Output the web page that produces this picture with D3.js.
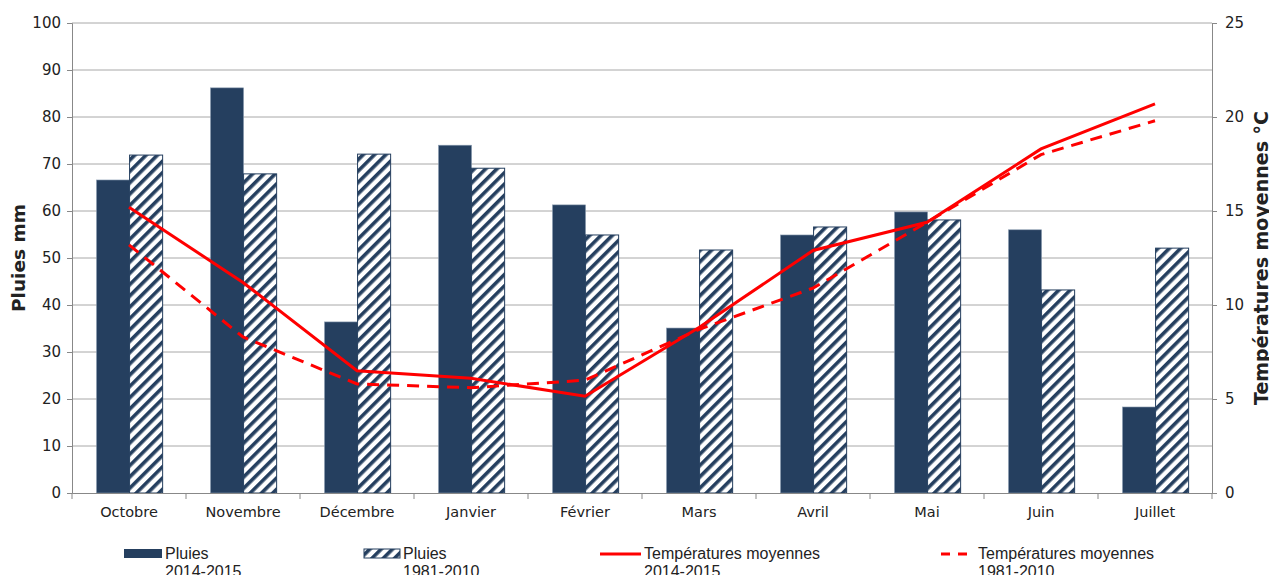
<!DOCTYPE html>
<html>
<head>
<meta charset="utf-8">
<script src="https://cdn.jsdelivr.net/npm/d3@7"></script>
<style>
  body { margin: 0; background: #fff; }
  text { font-family: "DejaVu Sans", Verdana, sans-serif; fill: #222; }
  .legend text { font-family: "Liberation Sans Narrow", "Liberation Sans", Arial, sans-serif; font-size: 16px; }
</style>
</head>
<body>
<script>
// Data
const months = ["Octobre", "Novembre", "Décembre", "Janvier", "Février", "Mars", "Avril", "Mai", "Juin", "Juillet"];
const rain2014 = [66.6, 86.2, 36.4, 74.0, 61.3, 35.1, 54.9, 59.8, 56.0, 18.3];
const rain1981 = [71.9, 67.9, 72.1, 69.1, 54.9, 51.7, 56.6, 58.1, 43.2, 52.1];
const temp2014 = [15.2, 11.2, 6.5, 6.1, 5.15, 8.8, 12.9, 14.4, 18.3, 20.7];
const temp1981 = [13.2, 8.3, 5.8, 5.6, 6.0, 8.7, 10.9, 14.4, 18.0, 19.8];
const rainTicks = d3.range(0, 101, 10);
const tempTicks = d3.range(0, 26, 5);

const W = 1269, H = 575;
const margin = { top: 23, right: 57, bottom: 82, left: 72 };
const width = W - margin.left - margin.right;
const height = H - margin.top - margin.bottom;

const navy = "#253f5f";
const axisColor = "#888";

const svg = d3.select("body").append("svg").attr("width", W).attr("height", H);

// hatch pattern for 1981-2010 bars
const pat = svg.append("defs").append("pattern")
  .attr("id", "hatch")
  .attr("patternUnits", "userSpaceOnUse")
  .attr("width", 8).attr("height", 8)
  .attr("patternTransform", "rotate(45)");
pat.append("rect").attr("width", 8).attr("height", 8).attr("fill", "#fff");
pat.append("rect").attr("x", 0).attr("width", 3.6).attr("height", 8).attr("fill", navy);

const g = svg.append("g").attr("transform", `translate(${margin.left},${margin.top})`);

// Scales
const x0 = d3.scaleBand().domain(months).range([0, width]);
const x1 = d3.scaleBand().domain(["2014", "1981"])
  .range([x0.bandwidth() * 0.215, x0.bandwidth() * 0.795]);
const yRain = d3.scaleLinear().domain([0, 100]).range([height, 0]);
const yTemp = d3.scaleLinear().domain([0, 25]).range([height, 0]);

// Gridlines
g.append("g").selectAll("line").data(rainTicks.slice(1)).join("line")
  .attr("x1", 0).attr("x2", width)
  .attr("y1", d => yRain(d)).attr("y2", d => yRain(d))
  .attr("stroke", "#a8a8a8").attr("stroke-width", 1);

// Bars
const groups = g.append("g").selectAll("g").data(months).join("g")
  .attr("transform", d => `translate(${x0(d)},0)`);
groups.append("rect")
  .attr("x", x1("2014")).attr("width", x1.bandwidth())
  .attr("y", (d, i) => yRain(rain2014[i]))
  .attr("height", (d, i) => height - yRain(rain2014[i]))
  .attr("fill", navy).attr("stroke", "#8a9bb0").attr("stroke-width", 0.6);
groups.append("rect")
  .attr("x", x1("1981")).attr("width", x1.bandwidth())
  .attr("y", (d, i) => yRain(rain1981[i]))
  .attr("height", (d, i) => height - yRain(rain1981[i]))
  .attr("fill", "url(#hatch)").attr("stroke", navy).attr("stroke-width", 1);

// Axes
const axisL = d3.axisLeft(yRain).tickValues(rainTicks).tickSize(5).tickPadding(6);
const axisR = d3.axisRight(yTemp).tickValues(tempTicks).tickSize(5).tickPadding(8);
const axisB = d3.axisBottom(x0).tickSize(0).tickPadding(14);

const gl = g.append("g").call(axisL);
const gr = g.append("g").attr("transform", `translate(${width},0)`).call(axisR);
const gb = g.append("g").attr("transform", `translate(0,${height})`).call(axisB);
[gl, gr, gb].forEach(a => {
  a.select(".domain").attr("stroke", axisColor);
  a.selectAll(".tick line").attr("stroke", axisColor);
  a.selectAll("text").attr("font-size", 15).attr("fill", "#222")
    .attr("font-family", "DejaVu Sans, Verdana, sans-serif");
});
gb.selectAll(".tick text").attr("font-size", 14.5);

// category boundary ticks on x axis
g.append("g").selectAll("line").data(months.concat(["end"])).join("line")
  .attr("x1", (d, i) => i * x0.step()).attr("x2", (d, i) => i * x0.step())
  .attr("y1", height).attr("y2", height + 6)
  .attr("stroke", axisColor);

// Temperature lines
const cx = i => x0(months[i]) + x0.bandwidth() / 2;
const line = d3.line().x((d, i) => cx(i)).y(d => yTemp(d));
g.append("path").datum(temp2014).attr("d", line)
  .attr("fill", "none").attr("stroke", "#ff0000").attr("stroke-width", 3);
g.append("path").datum(temp1981).attr("d", line)
  .attr("fill", "none").attr("stroke", "#ff0000").attr("stroke-width", 3)
  .attr("stroke-dasharray", "12,8");

// Axis titles
svg.append("text")
  .attr("transform", `translate(25,${margin.top + height / 2}) rotate(-90)`)
  .attr("text-anchor", "middle").attr("font-weight", "bold").attr("font-size", 18.5)
  .text("Pluies mm");
svg.append("text")
  .attr("transform", `translate(1268,${margin.top + height / 2}) rotate(-90)`)
  .attr("text-anchor", "middle").attr("font-weight", "bold").attr("font-size", 19)
  .text("Températures moyennes °C");

// Legend
const legend = svg.append("g").attr("class", "legend");
const items = [
  { x: 124, w: 38, kind: "bar", label: ["Pluies", "2014-2015"] },
  { x: 364, w: 36, kind: "hatch", label: ["Pluies", "1981-2010"] },
  { x: 600, w: 41, kind: "line", label: ["Températures moyennes", "2014-2015"] },
  { x: 941, w: 34, kind: "dash", label: ["Températures moyennes", "1981-2010"] }
];
items.forEach(it => {
  const lg = legend.append("g");
  if (it.kind === "bar" || it.kind === "hatch") {
    lg.append("rect").attr("x", it.x).attr("y", 549).attr("width", it.w).attr("height", 9)
      .attr("fill", it.kind === "bar" ? navy : "url(#hatch)")
      .attr("stroke", navy).attr("stroke-width", it.kind === "bar" ? 0 : 1);
  } else {
    lg.append("line").attr("x1", it.x).attr("x2", it.x + it.w).attr("y1", 554).attr("y2", 554)
      .attr("stroke", "#ff0000").attr("stroke-width", 3)
      .attr("stroke-dasharray", it.kind === "dash" ? "9,8" : null);
  }
  const t = lg.append("text").attr("x", it.x + it.w + 3).attr("y", 559);
  t.append("tspan").attr("x", it.x + it.w + 3).text(it.label[0]);
  t.append("tspan").attr("x", it.x + it.w + 3).attr("dy", 18).text(it.label[1]);
});
</script>
</body>
</html>
